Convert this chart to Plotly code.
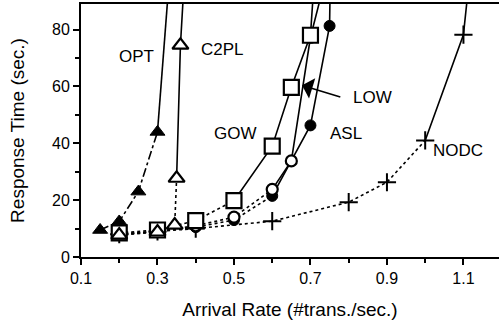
import plotly.graph_objects as go

# ---- data (arrival rate vs response time); last point of each series runs off the top ----
opt_x = [0.15, 0.2, 0.25, 0.3, 0.332]
opt_y = [9.5, 12.5, 23, 44, 100]
c2pl_x = [0.2, 0.3, 0.345, 0.35, 0.36, 0.371]
c2pl_y = [7.7, 8.8, 11.2, 27.7, 74.5, 100]
gow_x = [0.2, 0.3, 0.4, 0.5, 0.6, 0.65, 0.7, 0.711]
gow_y = [8.5, 9.5, 12.8, 19.8, 39, 59.7, 78, 100]
low_x = [0.2, 0.3, 0.4, 0.5, 0.6, 0.65, 0.7, 0.743]
low_y = [8, 9, 11, 14, 23.8, 33.8, 77.3, 100]
asl_x = [0.2, 0.3, 0.4, 0.5, 0.6, 0.7, 0.75, 0.752]
asl_y = [8, 9, 10.5, 13, 21.5, 46.3, 81.3, 100]
nodc_x = [0.2, 0.3, 0.4, 0.6, 0.8, 0.9, 1.0, 1.1, 1.117]
nodc_y = [8, 9, 10, 12.6, 19.3, 26.3, 41, 78.2, 100]

x_ticks = [0.1, 0.3, 0.5, 0.7, 0.9, 1.1]
y_ticks = [0, 20, 40, 60, 80]

FONT = "Liberation Sans, Arial, Helvetica, sans-serif"
INK = "black"

# (name, xs, ys, split index, lower dash, marker symbol, marker size, filled, label pos)
series = [
    ("NODC", nodc_x, nodc_y, 6, "dot", "cross-thin", 13, True, (1.086, 37.5)),
    ("ASL", asl_x, asl_y, 4, "dot", "circle", 11, True, (0.793, 43.5)),
    ("LOW", low_x, low_y, 4, "dot", "circle-open", 11, False, (0.863, 56.1)),
    ("GOW", gow_x, gow_y, 3, "dot", "square", 15, False, (0.505, 43.5)),
    ("C2PL", c2pl_x, c2pl_y, 3, "dot", "triangle-up", 14, False, (0.469, 73)),
    ("OPT", opt_x, opt_y, 3, "dashdot", "triangle-up", 13, True, (0.244, 70.5)),
]

fig = go.Figure()

# lines first
for name, xs, ys, k, dash, sym, sz, filled, _ in series:
    fig.add_trace(go.Scatter(x=xs[:k + 1], y=ys[:k + 1], mode="lines",
                             line=dict(color=INK, width=1.6, dash=dash),
                             hoverinfo="skip", showlegend=False))
    fig.add_trace(go.Scatter(x=xs[k:], y=ys[k:], mode="lines",
                             line=dict(color=INK, width=1.6, dash="solid"),
                             hoverinfo="skip", showlegend=False))

# markers on top (skip the off-chart continuation point)
for name, xs, ys, k, dash, sym, sz, filled, _ in series:
    if sym == "cross-thin":
        mk = dict(symbol="cross-thin", size=sz, line=dict(color=INK, width=2), color=INK)
    elif filled:
        mk = dict(symbol=sym, size=sz, color=INK, line=dict(color=INK, width=1))
    else:
        mk = dict(symbol=sym.replace("-open", ""), size=sz, color="white",
                  line=dict(color=INK, width=2.2))
    fig.add_trace(go.Scatter(x=xs[:-1], y=ys[:-1], mode="markers", marker=mk,
                             name=name, showlegend=False))

# series labels
for name, xs, ys, k, dash, sym, sz, filled, (lx, ly) in series:
    fig.add_annotation(x=lx, y=ly, text=name, showarrow=False,
                       font=dict(family=FONT, size=17, color=INK))

# arrow from LOW label to GOW square
fig.add_annotation(x=0.678, y=60.4, ax=0.782, ay=56.1, xref="x", yref="y",
                   axref="x", ayref="y", text="", showarrow=True,
                   arrowhead=1, arrowsize=2.2, arrowwidth=1.6, arrowcolor=INK)

fig.update_layout(
    width=499, height=323,
    margin=dict(l=81, r=0, t=4, b=66),
    paper_bgcolor="white", plot_bgcolor="white",
    font=dict(family=FONT, color=INK),
    xaxis=dict(range=[0.1, 1.193], tickvals=x_ticks, automargin=False,
               ticktext=[f"{v:.1f}" for v in x_ticks],
               ticks="outside", ticklen=6, tickwidth=1.5, tickcolor=INK,
               minor=dict(dtick=0.1, tick0=0.1, ticks="outside", ticklen=4, tickwidth=1.5, tickcolor=INK),
               showline=True, linecolor=INK, linewidth=2, mirror=True,
               showgrid=False, zeroline=False,
               tickfont=dict(size=16),
               title=dict(text="Arrival Rate (#trans./sec.)", font=dict(size=19), standoff=16)),
    yaxis=dict(range=[0, 89], tickvals=y_ticks, automargin=False,
               ticks="outside", ticklen=6, tickwidth=1.5, tickcolor=INK,
               minor=dict(dtick=10, tick0=0, ticks="outside", ticklen=4, tickwidth=1.5, tickcolor=INK),
               showline=True, linecolor=INK, linewidth=2,
               showgrid=False, zeroline=False,
               tickfont=dict(size=16),
               title=dict(text="Response Time (sec.)", font=dict(size=19), standoff=22)),
)

fig.write_html("out.html", config={"displayModeBar": False},
               post_script="document.body.style.margin='0';document.body.style.overflow='hidden';")
